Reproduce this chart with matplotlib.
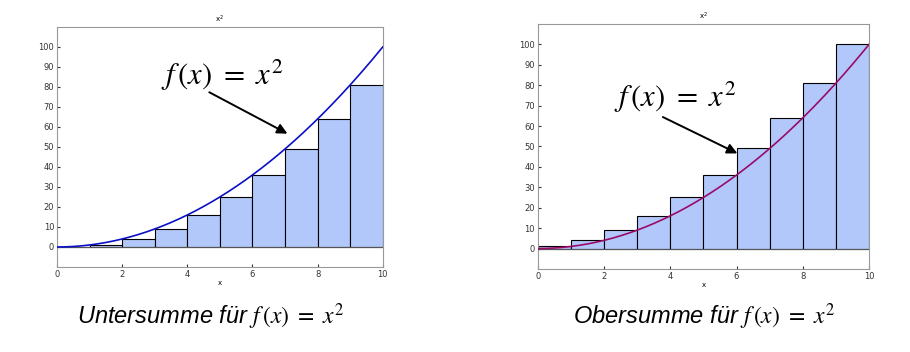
import numpy as np
import matplotlib
matplotlib.use("Agg")
import matplotlib.pyplot as plt

plt.rcParams['mathtext.fontset'] = 'stix'

# Data
edges_left = [0, 1, 2, 3, 4, 5, 6, 7, 8, 9]
lower_heights = [0, 1, 4, 9, 16, 25, 36, 49, 64, 81]
upper_heights = [1, 4, 9, 16, 25, 36, 49, 64, 81, 100]
xticks = [0, 2, 4, 6, 8, 10]
yticks = [0, 10, 20, 30, 40, 50, 60, 70, 80, 90, 100]

xs = np.linspace(0, 10, 200)
ys = xs ** 2

fig = plt.figure(figsize=(9.1, 3.52), dpi=100)
bar_color = '#b3c8fa'

def setup(ax, heights, curve_color, text_xy, arrow_tail, arrow_head):
    ax.bar(edges_left, heights, width=1.0, align='edge', color=bar_color,
           edgecolor='black', linewidth=0.8, zorder=2)
    ax.axhline(0, color='#555555', linewidth=0.8, zorder=3)
    ax.plot(xs, ys, color=curve_color, linewidth=1.2, zorder=4)
    ax.set_xlim(0, 10)
    ax.set_ylim(-10, 110)
    ax.set_xticks(xticks)
    ax.set_yticks(yticks)
    ax.tick_params(labelsize=6, length=2, direction='in', colors='#333333', pad=2)
    for s in ax.spines.values():
        s.set_color('#999999')
        s.set_linewidth(0.8)
    ax.set_title('$\\mathregular{x^2}$', fontsize=5, pad=3)
    ax.set_xlabel('x', fontsize=5, labelpad=1)
    ax.text(text_xy[0], text_xy[1], r'$f\,(x)\ =\ x^2$', fontsize=22,
            ha='left', va='center', zorder=6)
    ax.annotate('', xy=arrow_head, xytext=arrow_tail,
                arrowprops=dict(arrowstyle='-|>', color='black', lw=1.4,
                                mutation_scale=15), zorder=6)
    return ax

ax1 = fig.add_axes([0.0626, 0.2415, 0.358, 0.682])
setup(ax1, lower_heights, '#0a10c8', (3.2, 86), (4.6, 78), (7.15, 56))

ax2 = fig.add_axes([0.591, 0.236, 0.364, 0.696])
setup(ax2, upper_heights, '#9a0a6a', (2.3, 74), (3.7, 65), (6.1, 46))

fig.text(0.2315, 0.099, r'Untersumme für $f\,(x)\ =\ x^2$', fontsize=17,
         style='italic', family='Liberation Sans', ha='center', va='center')
fig.text(0.7735, 0.099, r'Obersumme für $f\,(x)\ =\ x^2$', fontsize=17,
         style='italic', family='Liberation Sans', ha='center', va='center')

fig.savefig('out.png', dpi=100)
